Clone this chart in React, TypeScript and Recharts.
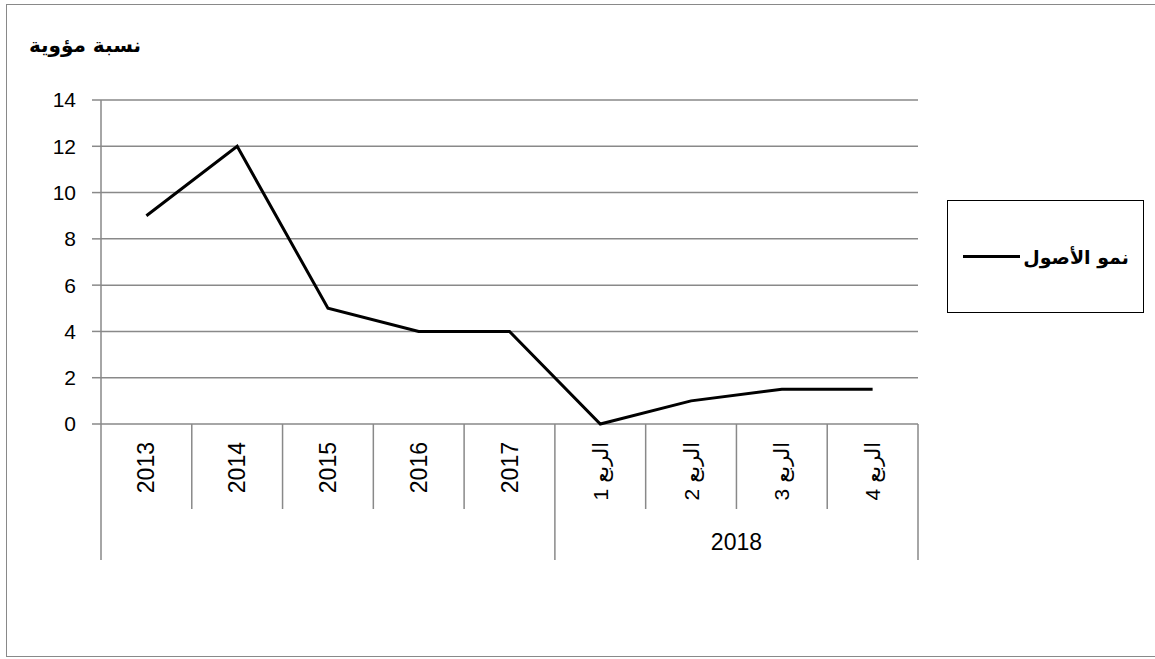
import { CartesianGrid, Legend, Line, LineChart, XAxis, YAxis } from "recharts";

const categories = ["2013", "2014", "2015", "2016", "2017", "الربع 1", "الربع 2", "الربع 3", "الربع 4"];
const assetGrowth = [9, 12, 5, 4, 4, 0, 1, 1.5, 1.5];
const yTicks = [0, 2, 4, 6, 8, 10, 12, 14];
const groupLabel = "2018";
const groupStart = 5;
const seriesName = "نمو الأصول";
const yTitle = "نسبة مؤوية";

const data = categories.map((label, i) => ({ label, value: assetGrowth[i] }));

const W = 1155;
const H = 659;
const PLOT_L = 101;
const PLOT_R = 918;
const PLOT_T = 100;
const PLOT_B = 424;
const GRID = "#898989";
const BAND = (PLOT_R - PLOT_L) / categories.length;

function CategoryTick(props: any) {
  const { x, y, payload, index } = props;
  const left = x - BAND / 2;
  const right = x + BAND / 2;
  const isGroupEdge = index === 0 || index === groupStart;
  return (
    <g>
      <line x1={left} y1={y} x2={left} y2={y + (isGroupEdge ? 136 : 85)} stroke={GRID} strokeWidth={1.5} />
      {index === categories.length - 1 && (
        <line x1={right} y1={y} x2={right} y2={y + 136} stroke={GRID} strokeWidth={1.5} />
      )}
      <text
        x={0}
        y={0}
        transform={`translate(${x}, ${y + 18}) rotate(-90)`}
        textAnchor="end"
        dominantBaseline="central"
        fontFamily="'Liberation Sans', Arial, 'DejaVu Sans', sans-serif"
        fontSize={payload.value.length > 4 ? 21 : 23}
        fill="#000"
      >
        {payload.value}
      </text>
      {index === 6 && (
        <text
          x={right}
          y={y + 118}
          textAnchor="middle"
          dominantBaseline="central"
          fontFamily="'Liberation Sans', Arial, sans-serif"
          fontSize={23}
          fill="#000"
        >
          {groupLabel}
        </text>
      )}
    </g>
  );
}

function LegendBox() {
  return (
    <div
      style={{
        width: 197,
        height: 113,
        border: "1.5px solid #000",
        boxSizing: "border-box",
        display: "flex",
        alignItems: "center",
        justifyContent: "flex-end",
        paddingRight: 14,
        gap: 3,
        fontFamily: "'DejaVu Sans', sans-serif",
        fontWeight: "bold",
        fontSize: 19,
        background: "#fff",
      }}
    >
      <span style={{ width: 57, height: 3, background: "#000", display: "inline-block" }} />
      <span dir="rtl">{seriesName}</span>
    </div>
  );
}

export default function App() {
  return (
    <div style={{ position: "absolute", left: 0, top: 0, width: W, height: H, overflow: "hidden", background: "#fff" }}>
      <div
        style={{
          position: "absolute",
          left: 6,
          top: 4,
          width: W,
          height: 653,
          border: `1.5px solid ${GRID}`,
          boxSizing: "border-box",
        }}
      />
      <div
        dir="rtl"
        style={{
          position: "absolute",
          right: W - 141,
          top: 33,
          fontFamily: "'DejaVu Sans', sans-serif",
          fontWeight: "bold",
          fontSize: 20,
          color: "#000",
          whiteSpace: "nowrap",
        }}
      >
        {yTitle}
      </div>
      <LineChart
        width={W}
        height={H}
        data={data}
        margin={{ top: PLOT_T, right: W - PLOT_R, bottom: 0, left: 0 }}
        style={{ position: "absolute", left: 0, top: 0 }}
      >
        <CartesianGrid horizontal vertical={false} stroke={GRID} strokeWidth={1.5} />
        <XAxis
          dataKey="label"
          scale="band"
          interval={0}
          axisLine={false}
          tickLine={false}
          tickSize={0}
          tickMargin={0}
          height={H - PLOT_B}
          tick={<CategoryTick />}
        />
        <YAxis
          domain={[0, 14]}
          ticks={yTicks}
          width={PLOT_L}
          axisLine={{ stroke: GRID, strokeWidth: 1.5 }}
          tickLine={{ stroke: GRID, strokeWidth: 1.5 }}
          tickSize={9}
          tickMargin={16}
          tick={{ fill: "#000", fontSize: 21, fontFamily: "'Liberation Sans', Arial, sans-serif" }}
        />
        <Legend
          layout="vertical"
          align="center"
          verticalAlign="middle"
          wrapperStyle={{ left: 947, top: 200 }}
          content={() => <LegendBox />}
        />
        <Line
          type="linear"
          dataKey="value"
          name={seriesName}
          stroke="#000"
          strokeWidth={3}
          dot={false}
          isAnimationActive={false}
        />
      </LineChart>
    </div>
  );
}
